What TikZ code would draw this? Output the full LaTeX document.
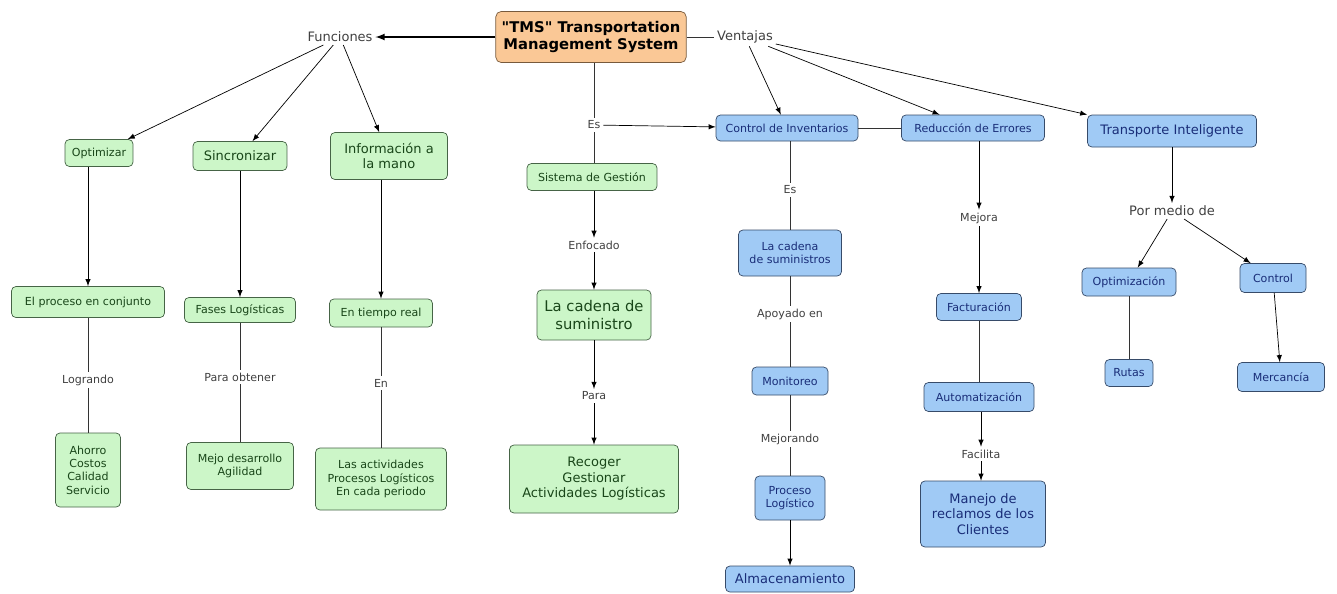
\documentclass[tikz,border=0pt]{standalone}
\usepackage{fontspec}
\setmainfont{DejaVu Sans}[Ligatures=TeXOff]
\usepackage{tikz}
\usetikzlibrary{arrows,positioning,calc}
\usepackage{xcolor}
\definecolor{gfill}{RGB}{204,246,200}
\definecolor{gdraw}{RGB}{70,100,70}
\definecolor{gtext}{RGB}{25,70,25}
\definecolor{bfill}{RGB}{160,202,245}
\definecolor{bdraw}{RGB}{55,75,105}
\definecolor{btext}{RGB}{25,45,120}
\definecolor{ofill}{RGB}{250,200,150}
\definecolor{odraw}{RGB}{120,90,60}
\newcommand{\fsm}{\fontsize{6.3}{7.6}\selectfont}
\newcommand{\fmd}{\fontsize{7.4}{8.8}\selectfont}
\newcommand{\flg}{\fontsize{8.4}{10}\selectfont}

\begin{document}
\begin{tikzpicture}[x=0.02cm, y=-0.02cm,
    gbox/.style={rectangle, draw=gdraw, fill=gfill, text=gtext, rounded corners=2.5pt,
                 align=center, inner sep=1pt, font=\fsm},
    bbox/.style={rectangle, draw=bdraw, fill=bfill, text=btext, rounded corners=2.5pt,
                 align=center, inner sep=1pt, font=\fsm},
    lbl/.style={inner sep=1.5pt, font=\fsm, text=black!75},
    arrow/.style={->, >=latex, thin},
    link/.style={-, thin, black!80}
  ]
  \useasboundingbox (0,0) rectangle (1337,593);

  \node[rectangle, draw=odraw, fill=ofill, rounded corners=3pt, align=center,
        font=\flg\bfseries, minimum width=3.72cm, minimum height=1.02cm] (tms) at (591,37)
        {"TMS" Transportation\\Management System};
  \node[lbl, font=\fmd] (fun) at (340,37) {Funciones};
  \node[lbl, font=\fmd] (ven) at (745,37) {Ventajas};

  % funciones
  \node[gbox, minimum width=1.36cm, minimum height=0.54cm] (opt) at (99,153) {Optimizar};
  \node[gbox, font=\fmd, minimum width=1.88cm, minimum height=0.58cm] (sin) at (240,156) {Sincronizar};
  \node[gbox, font=\fmd, minimum width=2.34cm, minimum height=0.94cm] (inf) at (389,156) {Información a\\la mano};
  \node[gbox, minimum width=3.06cm, minimum height=0.62cm] (pro) at (88,302) {El proceso en conjunto};
  \node[gbox, minimum width=2.22cm, minimum height=0.5cm] (fas) at (240,310) {Fases Logísticas};
  \node[gbox, minimum width=2.06cm, minimum height=0.56cm] (tie) at (381,313) {En tiempo real};
  \node[lbl] (log) at (88,380) {Logrando};
  \node[lbl] (pob) at (240,377) {Para obtener};
  \node[lbl] (en) at (381,383) {En};
  \node[gbox, minimum width=1.3cm, minimum height=1.48cm] (aho) at (88,470) {Ahorro\\Costos\\Calidad\\Servicio};
  \node[gbox, minimum width=2.14cm, minimum height=0.94cm] (mej) at (240,466) {Mejo desarrollo\\Agilidad};
  \node[gbox, minimum width=2.62cm, minimum height=1.24cm] (act) at (381,479) {Las actividades\\Procesos Logísticos\\En cada periodo};

  % centro
  \node[lbl] (es) at (594,125) {Es};
  \node[gbox, minimum width=2.6cm, minimum height=0.54cm] (sis) at (592,177) {Sistema de Gestión};
  \node[lbl] (enf) at (594,245) {Enfocado};
  \node[gbox, font=\flg, minimum width=2.28cm, minimum height=1cm] (cad) at (594,315) {La cadena de\\suministro};
  \node[lbl] (par) at (594,396) {Para};
  \node[gbox, font=\fmd, minimum width=3.38cm, minimum height=1.36cm] (rec) at (594,479) {Recoger\\Gestionar\\Actividades Logísticas};

  % ventajas
  \node[bbox, minimum width=2.84cm, minimum height=0.52cm] (inv) at (787,128) {Control de Inventarios};
  \node[bbox, minimum width=2.86cm, minimum height=0.52cm] (red) at (973,128) {Reducción de Errores};
  \node[bbox, font=\fmd, minimum width=3.38cm, minimum height=0.64cm] (tra) at (1172,131) {Transporte Inteligente};
  \node[lbl] (es2) at (790,190) {Es};
  \node[bbox, minimum width=2.06cm, minimum height=0.92cm] (cds) at (790,253) {La cadena\\de suministros};
  \node[lbl] (apo) at (790,314) {Apoyado en};
  \node[bbox, minimum width=1.52cm, minimum height=0.56cm] (mon) at (790,381) {Monitoreo};
  \node[lbl] (mjr) at (790,439) {Mejorando};
  \node[bbox, minimum width=1.4cm, minimum height=0.88cm] (plo) at (790,498) {Proceso\\Logístico};
  \node[bbox, font=\fmd, minimum width=2.58cm, minimum height=0.52cm] (alm) at (790,579) {Almacenamiento};
  \node[lbl] (mjo) at (979,218) {Mejora};
  \node[bbox, minimum width=1.7cm, minimum height=0.54cm] (fac) at (979,307) {Facturación};
  \node[bbox, minimum width=2.2cm, minimum height=0.58cm] (aut) at (979,397) {Automatización};
  \node[lbl] (fal) at (981,454) {Facilita};
  \node[bbox, font=\fmd, minimum width=2.5cm, minimum height=1.32cm] (man) at (983,514) {Manejo de\\reclamos de los\\Clientes};
  \node[lbl, font=\fmd] (pmd) at (1172,211) {Por medio de};
  \node[bbox, minimum width=1.88cm, minimum height=0.56cm] (opz) at (1129,282) {Optimización};
  \node[bbox, minimum width=1.32cm, minimum height=0.58cm] (ctl) at (1273,278) {Control};
  \node[bbox, minimum width=0.96cm, minimum height=0.54cm] (rut) at (1129,373) {Rutas};
  \node[bbox, minimum width=1.74cm, minimum height=0.58cm] (mer) at (1281,377) {Mercancía};

  % conectores
  \draw[arrow, thick] (tms) -- (fun);
  \draw[link] (tms) -- (ven);
  \draw[arrow] (fun) -- (opt);
  \draw[arrow] (fun) -- (sin);
  \draw[arrow] (fun) -- (inf);
  \draw[arrow] (opt.south -| pro) -- (pro);
  \draw[arrow] (sin) -- (fas);
  \draw[arrow] (inf.south -| tie) -- (tie);
  \draw[link] (pro) -- (log) -- (aho);
  \draw[link] (fas) -- (pob) -- (mej);
  \draw[link] (tie) -- (en) -- (act);

  \draw[link] (tms.south -| es) -- (es);
  \draw[arrow] (es) -- (inv);
  \draw[link] (es) -- (sis.north -| es);
  \draw[arrow] (sis.south -| enf) -- (enf);
  \draw[arrow] (enf) -- (cad);
  \draw[arrow] (cad) -- (par);
  \draw[arrow] (par) -- (rec);

  \draw[arrow] (ven) -- (inv);
  \draw[arrow] (ven) -- (red);
  \draw[arrow] (ven) -- (tra.north west);
  \draw[link] (inv) -- (red);
  \draw[link] (inv.south -| es2) -- (es2) -- (cds);
  \draw[link] (cds) -- (apo) -- (mon);
  \draw[link] (mon) -- (mjr) -- (plo);
  \draw[arrow] (plo) -- (alm);
  \draw[arrow] (red.south -| mjo) -- (mjo);
  \draw[arrow] (mjo) -- (fac);
  \draw[link] (fac) -- (aut);
  \draw[arrow] (aut.south -| fal) -- (fal);
  \draw[arrow] (fal) -- (man.north -| fal);
  \draw[arrow] (tra) -- (pmd);
  \draw[arrow] (pmd) -- (opz);
  \draw[arrow] (pmd) -- (ctl);
  \draw[link] (opz) -- (rut);
  \draw[arrow] (ctl) -- (mer);

\end{tikzpicture}
\end{document}
